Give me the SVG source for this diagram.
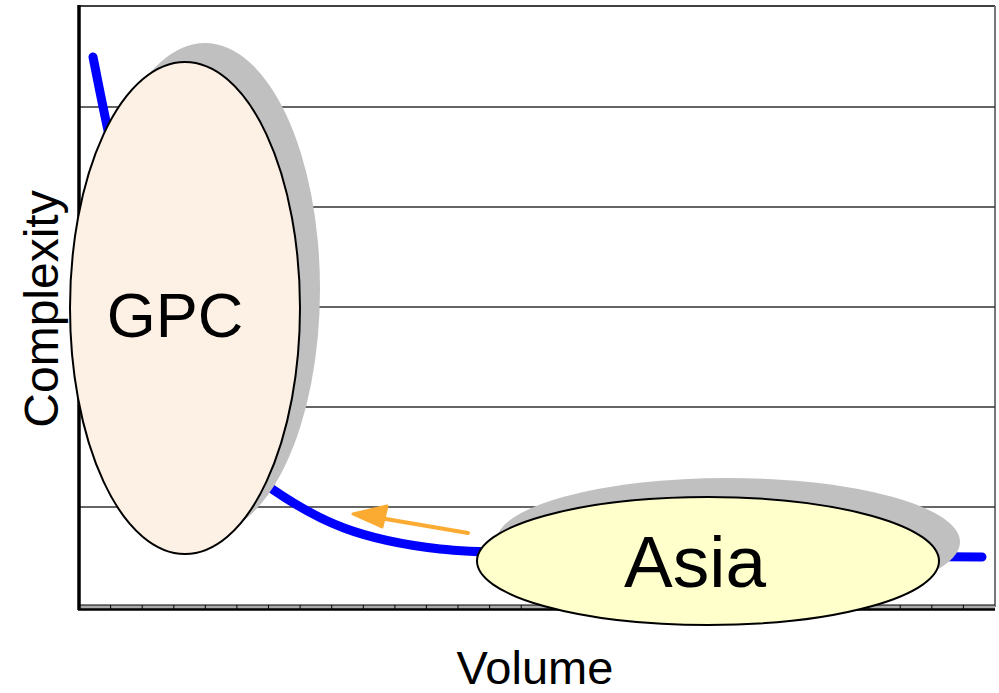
<svg xmlns="http://www.w3.org/2000/svg" width="999" height="693" viewBox="0 0 999 693">
<defs>
<style>
.grid{stroke:#333;stroke-width:1.3;fill:none}
.lbl{font-family:"Liberation Sans",Arial,sans-serif;fill:#000}
.shadow{fill:#C0C0C0;stroke:none}
.node{stroke:#000;stroke-width:2}
</style>
</defs>
<rect width="999" height="693" fill="#fff"/>
<g id="plot">
<line x1="79" y1="6" x2="995" y2="6" stroke="#000" stroke-width="1.5"/>
<line x1="995" y1="6" x2="995" y2="607" stroke="#777" stroke-width="2"/>
<path class="grid" d="M79,107H995M79,207H995M79,307H995M79,407H995M79,507H995"/>
<rect x="79" y="605" width="916" height="4" fill="#aaa"/>
<line x1="79" y1="605" x2="995" y2="605" stroke="#000" stroke-width="1"/>
<line x1="78" y1="609.5" x2="995" y2="609.5" stroke="#000" stroke-width="2.5"/>
<line x1="79" y1="5" x2="79" y2="610" stroke="#000" stroke-width="3.5"/>
<path stroke="#000" stroke-width="1" d="M110.6,605v4M142.2,605v4M173.8,605v4M205.3,605v4M236.9,605v4M268.5,605v4M300.1,605v4M331.7,605v4M363.3,605v4M394.9,605v4M426.4,605v4M458,605v4M489.6,605v4M521.2,605v4M552.8,605v4M584.4,605v4M615.9,605v4M647.5,605v4M679.1,605v4M710.7,605v4M742.3,605v4M773.9,605v4M805.4,605v4M837,605v4M868.6,605v4M900.2,605v4M931.8,605v4M963.4,605v4"/>
</g>
<g id="curve">
<path d="M93,57 C110,140 150,380 272,489 C320,522 360,540 440,549 C470,552 500,553 560,554 L982,557" fill="none" stroke="#0000FF" stroke-width="9" stroke-linecap="round" stroke-linejoin="round"/>
</g>
<g id="connectors">
<line x1="468" y1="533" x2="380" y2="518" stroke="#FBAA32" stroke-width="4" stroke-linecap="round"/>
<path d="M353,514 L387,506 L382,527 Z" fill="#FBAA32" stroke="#FBAA32" stroke-width="3" stroke-linejoin="round"/>
</g>
<g id="gpc">
<ellipse class="shadow" cx="205" cy="289" rx="115" ry="246"/>
<ellipse class="node" cx="185" cy="308" rx="115" ry="246" fill="#FDF1E6"/>
<text class="lbl" x="175" y="337" font-size="63" text-anchor="middle">GPC</text>
</g>
<g id="asia">
<ellipse class="shadow" cx="728" cy="542" rx="232" ry="64"/>
<ellipse class="node" cx="708" cy="561" rx="231" ry="64" fill="#FFFFCC"/>
<text class="lbl" x="695" y="587" font-size="73" text-anchor="middle">Asia</text>
</g>
<g id="axis-labels">
<text class="lbl" x="535" y="684" font-size="47" text-anchor="middle">Volume</text>
<text class="lbl" transform="translate(58,309) rotate(-90)" font-size="48" text-anchor="middle">Complexity</text>
</g>
</svg>
